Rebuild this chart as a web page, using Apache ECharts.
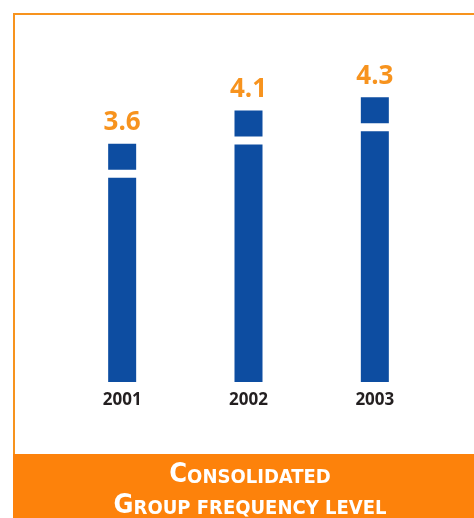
<!DOCTYPE html>
<html><head><meta charset="utf-8">
<script src="https://cdn.jsdelivr.net/npm/echarts@6/dist/echarts.min.js"></script>
<style>html,body{margin:0;padding:0;background:#fff}#c{width:474px;height:518px}</style>
</head><body><div id="c"></div>
<script>
const categories = ['2001', '2002', '2003'];
const values = [3.6, 4.1, 4.3];
const titleLine1 = ['C', 'ONSOLIDATED'];
const titleLine2 = ['G', 'ROUP FREQUENCY LEVEL'];

const chart = echarts.init(document.getElementById('c'));
const BLUE = '#0D4DA1', ORANGE = '#F7931E', FOOT = '#FD820B';
const FF = '"DejaVu Sans Condensed", "Open Sans"';
chart.setOption({
  animation: false,
  grid: { left: 59, right: 36, top: 51, bottom: 136 },
  xAxis: {
    type: 'category', data: categories,
    axisLine: { show: false }, axisTick: { show: false },
    axisLabel: { margin: 10, fontSize: 17, fontWeight: 'bold', color: '#231F20', fontFamily: 'Open Sans' }
  },
  yAxis: { type: 'value', min: 0, max: 5, show: false, splitLine: { show: false } },
  series: [
    {
      type: 'bar', data: values, barWidth: 28, itemStyle: { color: BLUE },
      label: { show: true, position: 'top', distance: 8, fontSize: 26, fontWeight: 'bold', color: ORANGE, fontFamily: 'Open Sans', formatter: p => p.value.toFixed(1) }
    },
    {
      type: 'custom', data: values.map((v, i) => [i, v]), z: 5,
      renderItem: function (params, api) {
        const top = api.coord([api.value(0), api.value(1)]);
        return {
          type: 'rect',
          shape: { x: top[0] - 16, y: top[1] + 26, width: 32, height: 8 },
          style: { fill: '#fff' }
        };
      }
    }
  ],
  graphic: [
    { type: 'rect', shape: { x: 13, y: 454, width: 461, height: 64 }, style: { fill: FOOT } },
    { type: 'line', shape: { x1: 14, y1: 13, x2: 14, y2: 454 }, style: { stroke: ORANGE, lineWidth: 2 } },
    { type: 'line', shape: { x1: 13, y1: 14, x2: 474, y2: 14 }, style: { stroke: ORANGE, lineWidth: 2 } },
    {
      type: 'text', z: 10,
      style: {
        x: 250, y: 457,
        text: '{b|' + titleLine1[0] + '}{s|' + titleLine1[1] + '}\n{b|' + titleLine2[0] + '}{s|' + titleLine2[1] + '}',
        align: 'center', verticalAlign: 'top',
        rich: {
          b: { fontSize: 27, fontWeight: 'bold', fill: '#fff', fontFamily: FF, lineHeight: 31, verticalAlign: 'bottom' },
          s: { fontSize: 20, fontWeight: 'bold', fill: '#fff', fontFamily: FF, lineHeight: 31, verticalAlign: 'bottom' }
        }
      }
    }
  ]
});
</script></body></html>
